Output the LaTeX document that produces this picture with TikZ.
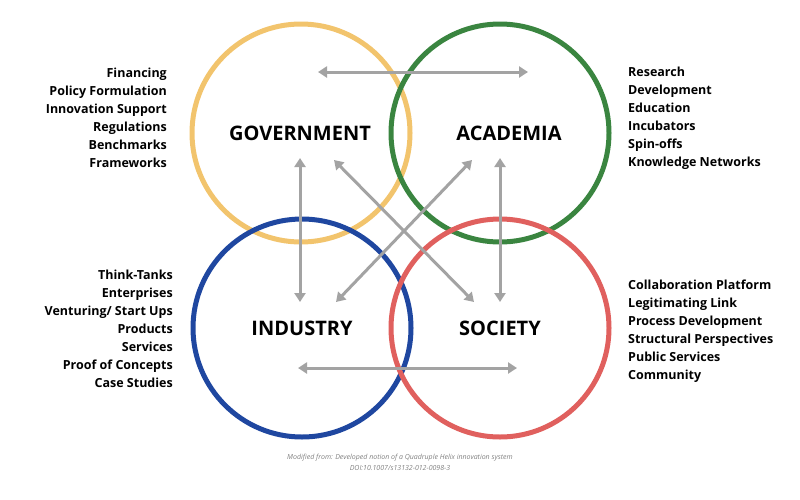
\documentclass[tikz,border=0pt]{standalone}
\usepackage{fontspec}
\setmainfont{Open Sans}
\usetikzlibrary{arrows.meta}
\definecolor{gold}{HTML}{F2C46D}
\definecolor{grn}{HTML}{3A8540}
\definecolor{blu}{HTML}{1F47A0}
\definecolor{rd}{HTML}{E0605E}
\definecolor{arr}{HTML}{A3A3A3}
\begin{document}
\begin{tikzpicture}[x=1pt,y=-1pt,
  ring/.style={line width=5pt,draw=#1,circle,minimum size=218pt,inner sep=0},
  big/.style={font=\fontsize{20}{24}\selectfont\bfseries},
  lst/.style={font=\fontsize{12.5}{18}\selectfont\bfseries,inner sep=0},
  ar/.style={draw=arr,line width=3pt,{Triangle[length=9pt,width=11pt]}-{Triangle[length=9pt,width=11pt]}}]
\useasboundingbox (0,0) rectangle (800,499);
\node[ring=gold] (gc) at (301,133) {};
\node[ring=grn] (ac) at (500,133) {};
\node[ring=blu] (ic) at (302,328) {};
\node[ring=rd] (sc) at (500,328) {};
\node[big] (g) at (300,133) {GOVERNMENT};
\node[big] (a) at (509,133) {ACADEMIA};
\node[big] (i) at (302,328) {INDUSTRY};
\node[big] (s) at (500,328) {SOCIETY};
\coordinate (t1) at (318,72); \coordinate (t2) at (528,72);
\coordinate (b1) at (298,368); \coordinate (b2) at (517,368);
\coordinate (l1) at (300,158); \coordinate (l2) at (300,302);
\coordinate (r1) at (500,158); \coordinate (r2) at (500,302);
\coordinate (d1) at (334,160); \coordinate (d2) at (474,302);
\coordinate (e1) at (472,160); \coordinate (e2) at (336,302);
\draw[ar] (t1) -- (t2);
\draw[ar] (b1) -- (b2);
\draw[ar] (l1) -- (l2);
\draw[ar] (r1) -- (r2);
\draw[ar] (d1) -- (d2);
\draw[ar] (e1) -- (e2);
\node[lst,anchor=north east,align=right] (gl) at (167,68) {Financing\\Policy Formulation\\Innovation Support \\Regulations\\Benchmarks\\Frameworks};
\node[lst,anchor=north west,align=left] (al) at (628,67) {Research\\Development\\Education\\Incubators\\Spin-offs\\Knowledge Networks};
\node[lst,anchor=north east,align=right] (il) at (173,270) {Think-Tanks\\Enterprises\\Venturing/ Start Ups\\Products\\Services \\Proof of Concepts\\Case Studies};
\node[lst,anchor=north west,align=left] (sl) at (628,280) {Collaboration Platform\\Legitimating Link\\Process Development\\Structural Perspectives\\Public Services\\Community};
\node[font=\fontsize{7}{11}\selectfont\itshape,text=gray,align=center] (cap) at (400,462) {Modified from: Developed notion of a Quadruple Helix innovation system\\DOI:10.1007/s13132-012-0098-3};
\end{tikzpicture}
\end{document}
